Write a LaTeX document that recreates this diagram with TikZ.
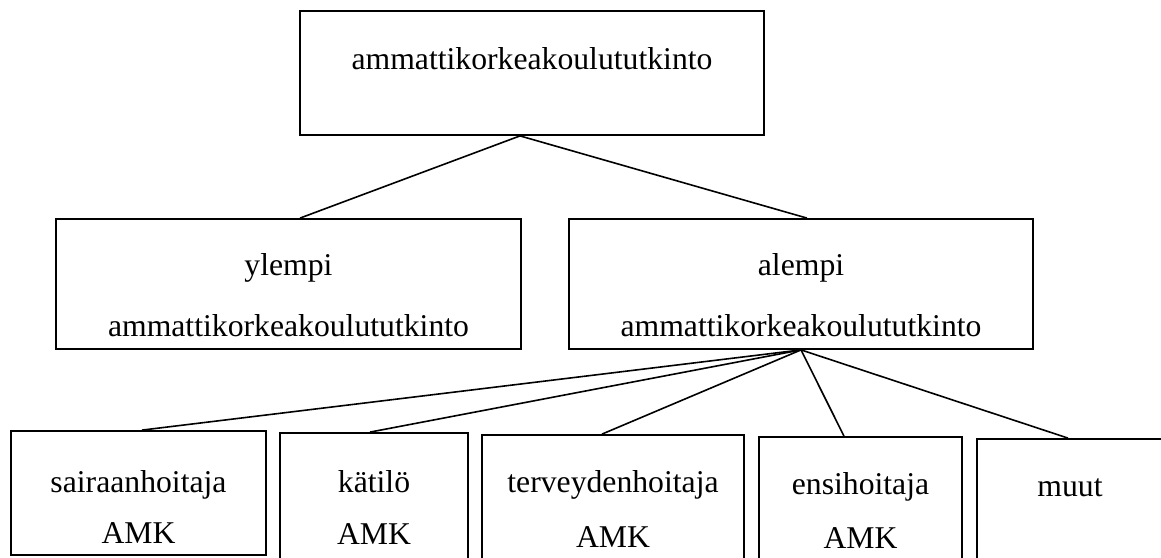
\documentclass[tikz,border=0pt]{standalone}
\usepackage{fontspec}
\setmainfont{Liberation Serif}
\tikzset{
  box/.style={draw, line width=1.8pt, rectangle, inner sep=0pt},
  lbl/.style={inner sep=0pt, anchor=base, font=\fontsize{31.7}{38}\selectfont},
  conn/.style={line width=1.6pt}
}
\begin{document}
\begin{tikzpicture}[x=1pt,y=-1pt]
\useasboundingbox (0,0) rectangle (1161,557);
% boxes
\node[box, minimum width=464pt, minimum height=124pt] (top) at (532,73) {};
\node[box, minimum width=465pt, minimum height=130pt] (yl) at (288.5,284) {};
\node[box, minimum width=464pt, minimum height=130pt] (al) at (801,284) {};
\node[box, minimum width=255pt, minimum height=124pt] (b1) at (138.5,493) {};
\node[box, minimum width=188pt, minimum height=128pt] (b2) at (374,497) {};
\node[box, minimum width=262pt, minimum height=128pt] (b3) at (613,499) {};
\node[box, minimum width=203pt, minimum height=128pt] (b4) at (860.5,501) {};
\node[box, minimum width=188pt, minimum height=128pt] (b5) at (1071,503) {};
% texts
\node[lbl] (ttop) at (532,69) {ammattikorkeakoulututkinto};
\node[lbl] (tyl1) at (288.5,275) {ylempi};
\node[lbl] (tyl2) at (288.5,336) {ammattikorkeakoulututkinto};
\node[lbl] (tal1) at (801,275) {alempi};
\node[lbl] (tal2) at (801,336) {ammattikorkeakoulututkinto};
\node[lbl] (tb1a) at (138.5,492) {sairaanhoitaja};
\node[lbl] (tb1b) at (138.5,543) {AMK};
\node[lbl] (tb2a) at (374,492) {kätilö};
\node[lbl] (tb2b) at (374,544) {AMK};
\node[lbl] (tb3a) at (613,492) {terveydenhoitaja};
\node[lbl] (tb3b) at (613,547) {AMK};
\node[lbl] (tb4a) at (860.5,494) {ensihoitaja};
\node[lbl] (tb4b) at (860.5,548) {AMK};
\node[lbl] (tb5a) at (1070,496) {muut};
% connectors
\draw[conn] ([xshift=-12pt]top.south) -- ([xshift=11.5pt]yl.north);
\draw[conn] ([xshift=-12pt]top.south) -- ([xshift=6pt]al.north);
\draw[conn] (al.south) -- ([xshift=3.5pt]b1.north);
\draw[conn] (al.south) -- ([xshift=-4pt]b2.north);
\draw[conn] (al.south) -- ([xshift=-11pt]b3.north);
\draw[conn] (al.south) -- ([xshift=-16.5pt]b4.north);
\draw[conn] (al.south) -- ([xshift=-3pt]b5.north);
\end{tikzpicture}
\end{document}
